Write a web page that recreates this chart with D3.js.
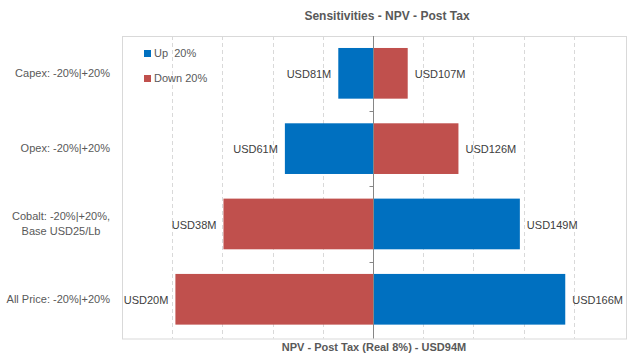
<!DOCTYPE html>
<html><head><meta charset="utf-8">
<script src="https://cdn.jsdelivr.net/npm/d3@7"></script>
<style>body{margin:0;background:#fff;}svg{display:block;font-family:"Liberation Sans",Arial,sans-serif;}</style>
</head><body><svg id="c" width="633" height="355"></svg>
<script>
const categories = ["Capex: -20%|+20%", "Opex: -20%|+20%", "Cobalt: -20%|+20%,\nBase USD25/Lb", "All Price: -20%|+20%"];
const up20 = [81, 61, 149, 166];
const down20 = [107, 126, 38, 20];
const baseValue = 94;
const seriesNames = ["Up  20%", "Down 20%"];
const seriesColors = ["#0070C0", "#C0504D"];
const gridValues = [18.8, 37.6, 56.4, 75.2, 112.8, 131.6, 150.4, 169.2];
const axisDomain = [0, 188];
const chartTitle = "Sensitivities - NPV - Post Tax";
const axisTitle = "NPV - Post Tax (Real 8%) - USD94M";

const svg = d3.select("#c");
const L = 122, R = 624, T = 36, B = 338.5, BR = 626;
const x = d3.scaleLinear().domain(axisDomain).range([L, R]);
const y = d3.scaleBand().domain(categories).range([T, 336.6]).paddingInner(0.327).paddingOuter(0.159);

// gridlines
svg.append("g").selectAll("line").data(gridValues).join("line")
  .attr("x1", d => Math.round(x(d)) + 0.5).attr("x2", d => Math.round(x(d)) + 0.5)
  .attr("y1", T).attr("y2", B)
  .attr("stroke", "#D9D9D9").attr("stroke-width", 1).attr("stroke-dasharray", "4,3");

// border
svg.append("rect").attr("x", L + 0.5).attr("y", T + 0.5).attr("width", BR - L).attr("height", B - T)
  .attr("fill", "none").attr("stroke", "#D9D9D9");

const rows = categories.map((c, i) => ({c, vals: [up20[i], down20[i]]}));
const bars = [];
rows.forEach(r => r.vals.forEach((v, s) => bars.push({c: r.c, v, s})));

svg.append("g").selectAll("rect").data(bars).join("rect")
  .attr("x", d => Math.min(x(d.v), x(baseValue)))
  .attr("width", d => Math.abs(x(d.v) - x(baseValue)))
  .attr("y", d => y(d.c)).attr("height", y.bandwidth())
  .attr("fill", d => seriesColors[d.s]);

// data labels
svg.append("g").selectAll("text").data(bars).join("text")
  .attr("x", d => d.v < baseValue ? x(d.v) - 7 : x(d.v) + 7)
  .attr("y", d => y(d.c) + y.bandwidth() / 2 + 1)
  .attr("dy", "0.35em")
  .attr("text-anchor", d => d.v < baseValue ? "end" : "start")
  .attr("font-size", 11).attr("fill", "#404040")
  .text(d => "USD" + d.v + "M");

// center axis
const cx = Math.round(x(baseValue)) + 0.5;
svg.append("line").attr("x1", cx).attr("x2", cx).attr("y1", T).attr("y2", B)
  .attr("stroke", "#868686").attr("stroke-width", 1);
const bounds = d3.range(1, categories.length).map(i => y(categories[i]) - y.step() * y.paddingInner() / 2);
svg.append("g").selectAll("line").data(bounds).join("line")
  .attr("x1", cx - 4).attr("x2", cx)
  .attr("y1", d => Math.round(d) + 0.5).attr("y2", d => Math.round(d) + 0.5)
  .attr("stroke", "#868686");

// category labels
const catG = svg.append("g");
categories.forEach(c => {
  const lines = c.split("\n");
  const g = catG.append("g");
  const lh = 15;
  const cy = y(c) + y.bandwidth() / 2 - 0.5;
  const ts = lines.map((t, i) => g.append("text").attr("font-size", 11).attr("fill", "#595959")
     .attr("y", cy + (i - (lines.length - 1) / 2) * lh).attr("dy", "0.35em").text(t));
  const widths = ts.map(t => t.node().getComputedTextLength());
  const maxW = d3.max(widths);
  const center = 110 - maxW / 2;
  ts.forEach(t => t.attr("x", center).attr("text-anchor", "middle"));
});

// legend
const leg = svg.append("g");
seriesNames.forEach((n, i) => {
  leg.append("rect").attr("x", 144).attr("y", 50 + i * 25).attr("width", 7).attr("height", 7).attr("fill", seriesColors[i]);
  leg.append("text").attr("x", 154).attr("y", 53.5 + i * 25).attr("dy", "0.35em").attr("font-size", 11).attr("fill", "#595959")
    .attr("xml:space", "preserve").style("white-space", "pre").text(n);
});

// titles
svg.append("text").attr("x", 387).attr("y", 20).attr("text-anchor", "middle")
  .attr("font-size", 12).attr("font-weight", "bold").attr("fill", "#595959").text(chartTitle);
svg.append("text").attr("x", 374).attr("y", 351).attr("text-anchor", "middle")
  .attr("font-size", 11).attr("font-weight", "bold").attr("fill", "#595959").text(axisTitle);
</script></body></html>
